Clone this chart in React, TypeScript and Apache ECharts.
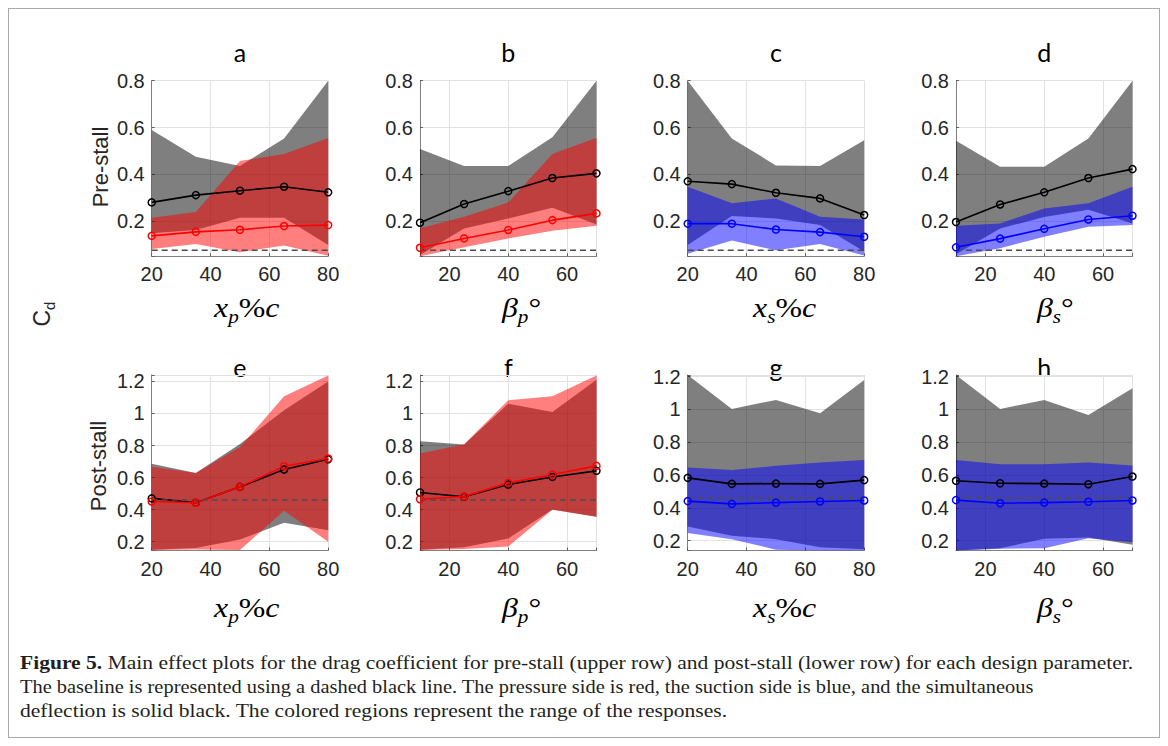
import React, { useEffect, useRef } from 'react';
import * as echarts from 'echarts';

// ---------- data ----------
const paramX = [20, 35, 50, 65, 80];
const paramBeta = [10, 25, 40, 55, 70];

const preStallBaseline = 0.075;
const postStallBaseline = 0.46;

// a : x_p %c, pre-stall
const aSimMean = [0.28, 0.311, 0.33, 0.347, 0.323];
const aSimLow = [0.148, 0.162, 0.214, 0.214, 0.098];
const aSimHigh = [0.589, 0.475, 0.435, 0.553, 0.8];
const aSideMean = [0.137, 0.154, 0.163, 0.179, 0.183];
const aSideLow = [0.081, 0.102, 0.067, 0.096, 0.052];
const aSideHigh = [0.214, 0.239, 0.457, 0.487, 0.555];

// b : beta_p, pre-stall
const bSimMean = [0.193, 0.273, 0.328, 0.384, 0.404];
const bSimLow = [0.055, 0.168, 0.211, 0.257, 0.185];
const bSimHigh = [0.508, 0.435, 0.435, 0.558, 0.8];
const bSideMean = [0.086, 0.126, 0.162, 0.204, 0.233];
const bSideLow = [0.05, 0.088, 0.126, 0.159, 0.18];
const bSideHigh = [0.169, 0.219, 0.28, 0.487, 0.556];

// c : x_s %c, pre-stall
const cSimMean = [0.37, 0.358, 0.321, 0.297, 0.226];
const cSimLow = [0.098, 0.222, 0.211, 0.183, 0.07];
const cSimHigh = [0.8, 0.553, 0.438, 0.435, 0.546];
const cSideMean = [0.189, 0.189, 0.164, 0.153, 0.133];
const cSideLow = [0.06, 0.117, 0.075, 0.102, 0.053];
const cSideHigh = [0.347, 0.276, 0.297, 0.219, 0.207];

// d : beta_s, pre-stall
const dSimMean = [0.196, 0.271, 0.323, 0.384, 0.422];
const dSimLow = [0.058, 0.168, 0.218, 0.249, 0.19];
const dSimHigh = [0.543, 0.432, 0.432, 0.553, 0.8];
const dSideMean = [0.088, 0.125, 0.167, 0.207, 0.223];
const dSideLow = [0.05, 0.084, 0.133, 0.176, 0.183];
const dSideHigh = [0.18, 0.19, 0.254, 0.276, 0.347];

// e : x_p %c, post-stall
const eSimMean = [0.47, 0.443, 0.542, 0.65, 0.714];
const eSimLow = [0.15, 0.16, 0.214, 0.318, 0.272];
const eSimHigh = [0.687, 0.629, 0.81, 1.02, 1.2];
const eSideMean = [0.451, 0.443, 0.542, 0.671, 0.719];
const eSideLow = [0.148, 0.152, 0.148, 0.393, 0.2];
const eSideHigh = [0.667, 0.629, 0.79, 1.107, 1.237];

// f : beta_p, post-stall
const fSimMean = [0.507, 0.48, 0.557, 0.604, 0.642];
const fSimLow = [0.15, 0.165, 0.22, 0.401, 0.355];
const fSimHigh = [0.827, 0.806, 1.061, 1.009, 1.21];
const fSideMean = [0.465, 0.482, 0.567, 0.619, 0.673];
const fSideLow = [0.148, 0.155, 0.17, 0.4, 0.355];
const fSideHigh = [0.75, 0.808, 1.082, 1.107, 1.237];

// g : x_s %c, post-stall
const gSimMean = [0.583, 0.546, 0.548, 0.546, 0.569];
const gSimLow = [0.286, 0.23, 0.209, 0.16, 0.148];
const gSimHigh = [1.21, 1.003, 1.058, 0.977, 1.18];
const gSideMean = [0.441, 0.424, 0.432, 0.439, 0.445];
const gSideLow = [0.246, 0.209, 0.145, 0.14, 0.14];
const gSideHigh = [0.646, 0.631, 0.656, 0.676, 0.692];

// h : beta_s, post-stall
const hSimMean = [0.565, 0.55, 0.548, 0.544, 0.591];
const hSimLow = [0.14, 0.154, 0.211, 0.219, 0.175];
const hSimHigh = [1.21, 1.003, 1.058, 0.966, 1.129];
const hSideMean = [0.447, 0.428, 0.432, 0.437, 0.445];
const hSideLow = [0.14, 0.15, 0.154, 0.215, 0.19];
const hSideHigh = [0.692, 0.666, 0.666, 0.676, 0.658];

const panelTitles = ['a', 'b', 'c', 'd', 'e', 'f', 'g', 'h'];
const rowLabels = ['Pre-stall', 'Post-stall'];

const captionLine1 =
  'Main effect plots for the drag coefficient for pre-stall (upper row) and post-stall (lower row) for each design parameter.';
const captionLine2 =
  'The baseline is represented using a dashed black line. The pressure side is red, the suction side is blue, and the simultaneous';
const captionLine3 =
  'deflection is solid black. The colored regions represent the range of the responses.';

// ---------- layout ----------
const colLeft = [143.7, 412, 679.7, 948];
const rowTop = [72.7, 367];
const gridW = 176.5;
const gridH = 175.5;
const xLabelLeft = [206, 494, 745, 1029];
const xLabelY = [300, 600];

const RED = '#ff0000';
const BLUE = '#0000ff';

const labelXp = '{i|x}{s|p}{n|%}{i|c}';
const labelBp = '{i|β}{s|p}{n|°}';
const labelXs = '{i|x}{s|s}{n|%}{i|c}';
const labelBs = '{i|β}{s|s}{n|°}';

type Panel = {
  title: string; col: number; row: number; xs: number[]; xmin: number; xmax: number;
  ymin: number; ymax: number; base: number;
  simMean: number[]; simLow: number[]; simHigh: number[];
  sideMean: number[]; sideLow: number[]; sideHigh: number[];
  color: string; label: string;
};

const panels: Panel[] = [
  { title: panelTitles[0], col: 0, row: 0, xs: paramX, xmin: 20, xmax: 80, ymin: 0.05, ymax: 0.8, base: preStallBaseline,
    simMean: aSimMean, simLow: aSimLow, simHigh: aSimHigh, sideMean: aSideMean, sideLow: aSideLow, sideHigh: aSideHigh, color: RED, label: labelXp },
  { title: panelTitles[1], col: 1, row: 0, xs: paramBeta, xmin: 10, xmax: 70, ymin: 0.05, ymax: 0.8, base: preStallBaseline,
    simMean: bSimMean, simLow: bSimLow, simHigh: bSimHigh, sideMean: bSideMean, sideLow: bSideLow, sideHigh: bSideHigh, color: RED, label: labelBp },
  { title: panelTitles[2], col: 2, row: 0, xs: paramX, xmin: 20, xmax: 80, ymin: 0.05, ymax: 0.8, base: preStallBaseline,
    simMean: cSimMean, simLow: cSimLow, simHigh: cSimHigh, sideMean: cSideMean, sideLow: cSideLow, sideHigh: cSideHigh, color: BLUE, label: labelXs },
  { title: panelTitles[3], col: 3, row: 0, xs: paramBeta, xmin: 10, xmax: 70, ymin: 0.05, ymax: 0.8, base: preStallBaseline,
    simMean: dSimMean, simLow: dSimLow, simHigh: dSimHigh, sideMean: dSideMean, sideLow: dSideLow, sideHigh: dSideHigh, color: BLUE, label: labelBs },
  { title: panelTitles[4], col: 0, row: 1, xs: paramX, xmin: 20, xmax: 80, ymin: 0.145, ymax: 1.24, base: postStallBaseline,
    simMean: eSimMean, simLow: eSimLow, simHigh: eSimHigh, sideMean: eSideMean, sideLow: eSideLow, sideHigh: eSideHigh, color: RED, label: labelXp },
  { title: panelTitles[5], col: 1, row: 1, xs: paramBeta, xmin: 10, xmax: 70, ymin: 0.145, ymax: 1.24, base: postStallBaseline,
    simMean: fSimMean, simLow: fSimLow, simHigh: fSimHigh, sideMean: fSideMean, sideLow: fSideLow, sideHigh: fSideHigh, color: RED, label: labelBp },
  { title: panelTitles[6], col: 2, row: 1, xs: paramX, xmin: 20, xmax: 80, ymin: 0.14, ymax: 1.21, base: postStallBaseline,
    simMean: gSimMean, simLow: gSimLow, simHigh: gSimHigh, sideMean: gSideMean, sideLow: gSideLow, sideHigh: gSideHigh, color: BLUE, label: labelXs },
  { title: panelTitles[7], col: 3, row: 1, xs: paramBeta, xmin: 10, xmax: 70, ymin: 0.14, ymax: 1.21, base: postStallBaseline,
    simMean: hSimMean, simLow: hSimLow, simHigh: hSimHigh, sideMean: hSideMean, sideLow: hSideLow, sideHigh: hSideHigh, color: BLUE, label: labelBs },
];

const TICK_FONT = 'Liberation Sans';
const TICK_COLOR = '#262626';

function isMultiple(v: number, step: number) {
  const r = v / step;
  return Math.abs(r - Math.round(r)) < 1e-6;
}

function bandSeries(i: number, xs: number[], low: number[], high: number[], fill: string) {
  return {
    type: 'custom',
    xAxisIndex: i,
    yAxisIndex: i,
    clip: true,
    silent: true,
    data: xs.map((x, j) => [x, low[j], high[j]]),
    encode: { x: 0, y: [1, 2] },
    renderItem: (params: any, api: any) => {
      if (params.dataIndex !== 0) return null;
      const n = xs.length;
      const pts: number[][] = [];
      for (let j = 0; j < n; j++) pts.push(api.coord([api.value(0, j), api.value(2, j)]));
      for (let j = n - 1; j >= 0; j--) pts.push(api.coord([api.value(0, j), api.value(1, j)]));
      return { type: 'polygon', shape: { points: pts }, style: { fill, stroke: 'none' } };
    },
  };
}

function lineSeries(i: number, xs: number[], vals: number[], color: string) {
  return {
    type: 'line',
    xAxisIndex: i,
    yAxisIndex: i,
    silent: true,
    data: xs.map((x, j) => [x, vals[j]]),
    symbol: 'circle',
    symbolSize: 7,
    showSymbol: true,
    itemStyle: { color: 'rgba(0,0,0,0)', borderColor: color, borderWidth: 1.5 },
    lineStyle: { color, width: 1.6 },
    emphasis: { disabled: true },
  };
}

function buildOption() {
  const grid = panels.map((p) => ({ left: colLeft[p.col], top: rowTop[p.row], width: gridW, height: gridH }));
  const xAxis = panels.map((p, i) => ({
    type: 'value', gridIndex: i, min: p.xmin, max: p.xmax, minInterval: 20, maxInterval: 20,
    axisLine: { show: true, onZero: false, lineStyle: { color: '#808080', width: 1 } },
    axisTick: { show: true, inside: true, length: 3, lineStyle: { color: '#606060' } },
    axisLabel: {
      margin: 8, fontSize: 20, color: TICK_COLOR, fontFamily: TICK_FONT,
      formatter: (v: number) => (isMultiple(v, 20) ? String(Math.round(v)) : ''),
    },
    splitLine: { show: true, lineStyle: { color: '#e2e2e2', width: 1 } },
  }));
  const yAxis = panels.map((p, i) => ({
    type: 'value', gridIndex: i, min: p.ymin, max: p.ymax, minInterval: 0.2, maxInterval: 0.2,
    axisLine: { show: true, onZero: false, lineStyle: { color: '#808080', width: 1 } },
    axisTick: { show: true, inside: true, length: 3, lineStyle: { color: '#606060' } },
    axisLabel: {
      margin: 7, fontSize: 20, color: TICK_COLOR, fontFamily: TICK_FONT,
      formatter: (v: number) => (isMultiple(v, 0.2) ? String(Math.round(v * 10) / 10) : ''),
    },
    splitLine: { show: true, showMinLine: false, lineStyle: { color: '#e2e2e2', width: 1 } },
  }));

  const series: any[] = [];
  panels.forEach((p, i) => {
    series.push(bandSeries(i, p.xs, p.simLow, p.simHigh, 'rgba(0,0,0,0.5)'));
    series.push(lineSeries(i, p.xs, p.simMean, '#000000'));
    series.push(bandSeries(i, p.xs, p.sideLow, p.sideHigh, p.color === RED ? 'rgba(255,0,0,0.5)' : 'rgba(0,0,255,0.5)'));
    series.push(lineSeries(i, p.xs, p.sideMean, p.color));
    series.push({
      type: 'line', xAxisIndex: i, yAxisIndex: i, silent: true, symbol: 'none',
      data: [[p.xmin, p.base], [p.xmax, p.base]],
      lineStyle: { color: '#4d4d4d', width: 1.5, type: [6, 4] },
      emphasis: { disabled: true },
    });
  });

  const mathRich = {
    i: { fontFamily: 'Liberation Serif', fontStyle: 'italic', fontSize: 27, lineHeight: 36, color: '#000', verticalAlign: 'middle' },
    s: { fontFamily: 'Liberation Serif', fontStyle: 'italic', fontSize: 18, lineHeight: 22, color: '#000', verticalAlign: 'bottom' },
    n: { fontFamily: 'Liberation Serif', fontSize: 27, lineHeight: 36, color: '#000', verticalAlign: 'middle' },
  };

  const graphic: any[] = [];
  panels.forEach((p) => {
    graphic.push({
      type: 'text', x: colLeft[p.col] + gridW / 2, y: p.row === 0 ? 44 : 359, silent: true,
      style: { text: p.title, fontFamily: 'Lato', fontSize: 25, fill: '#000', align: 'center', verticalAlign: 'middle' },
    });
    graphic.push({
      type: 'text', x: xLabelLeft[p.col], y: xLabelY[p.row], scaleX: 1.18, silent: true,
      style: { text: p.label, rich: mathRich, align: 'left', verticalAlign: 'middle' },
    });
  });
  graphic.push({
    type: 'text', x: 92, y: 159, rotation: Math.PI / 2, silent: true,
    style: { text: rowLabels[0], fontFamily: TICK_FONT, fontSize: 22, fill: TICK_COLOR, align: 'center', verticalAlign: 'middle' },
  });
  graphic.push({
    type: 'text', x: 90, y: 458, rotation: Math.PI / 2, silent: true,
    style: { text: rowLabels[1], fontFamily: TICK_FONT, fontSize: 22, fill: TICK_COLOR, align: 'center', verticalAlign: 'middle' },
  });
  graphic.push({
    type: 'text', x: 34, y: 306, rotation: Math.PI / 2, silent: true,
    style: {
      text: '{c|C}{d|d}', align: 'center', verticalAlign: 'middle',
      rich: {
        c: { fontFamily: TICK_FONT, fontSize: 23, lineHeight: 30, fill: TICK_COLOR, color: TICK_COLOR, verticalAlign: 'middle' },
        d: { fontFamily: TICK_FONT, fontSize: 15, lineHeight: 16, fill: TICK_COLOR, color: TICK_COLOR, verticalAlign: 'bottom' },
      },
    },
  });
  const capFont = { fontFamily: 'Liberation Serif', fontSize: 19, fill: '#231f20', align: 'left', verticalAlign: 'middle' };
  graphic.push({
    type: 'text', x: 12, y: 654, scaleX: 1.135, silent: true,
    style: {
      ...capFont,
      text: '{b|Figure 5.} ' + captionLine1,
      rich: { b: { fontFamily: 'Liberation Serif', fontSize: 19, fontWeight: 'bold', color: '#231f20' } },
    },
  });
  graphic.push({ type: 'text', x: 12, y: 678, scaleX: 1.075, silent: true, style: { ...capFont, text: captionLine2 } });
  graphic.push({ type: 'text', x: 12, y: 702, scaleX: 1.135, silent: true, style: { ...capFont, text: captionLine3 } });

  return { animation: false, backgroundColor: 'transparent', grid, xAxis, yAxis, series, graphic };
}

export default function App() {
  const ref = useRef<HTMLDivElement | null>(null);
  useEffect(() => {
    if (!ref.current) return;
    const chart = echarts.init(ref.current, undefined, { renderer: 'svg' });
    chart.setOption(buildOption() as any);
    return () => chart.dispose();
  }, []);
  return (
    <div style={{ position: 'relative', width: 1152, height: 730, boxSizing: 'border-box', border: '1px solid #a9a9a9', background: '#fff' }}>
      <div ref={ref} style={{ position: 'absolute', left: -1, top: -1, width: 1152, height: 730 }} />
    </div>
  );
}
